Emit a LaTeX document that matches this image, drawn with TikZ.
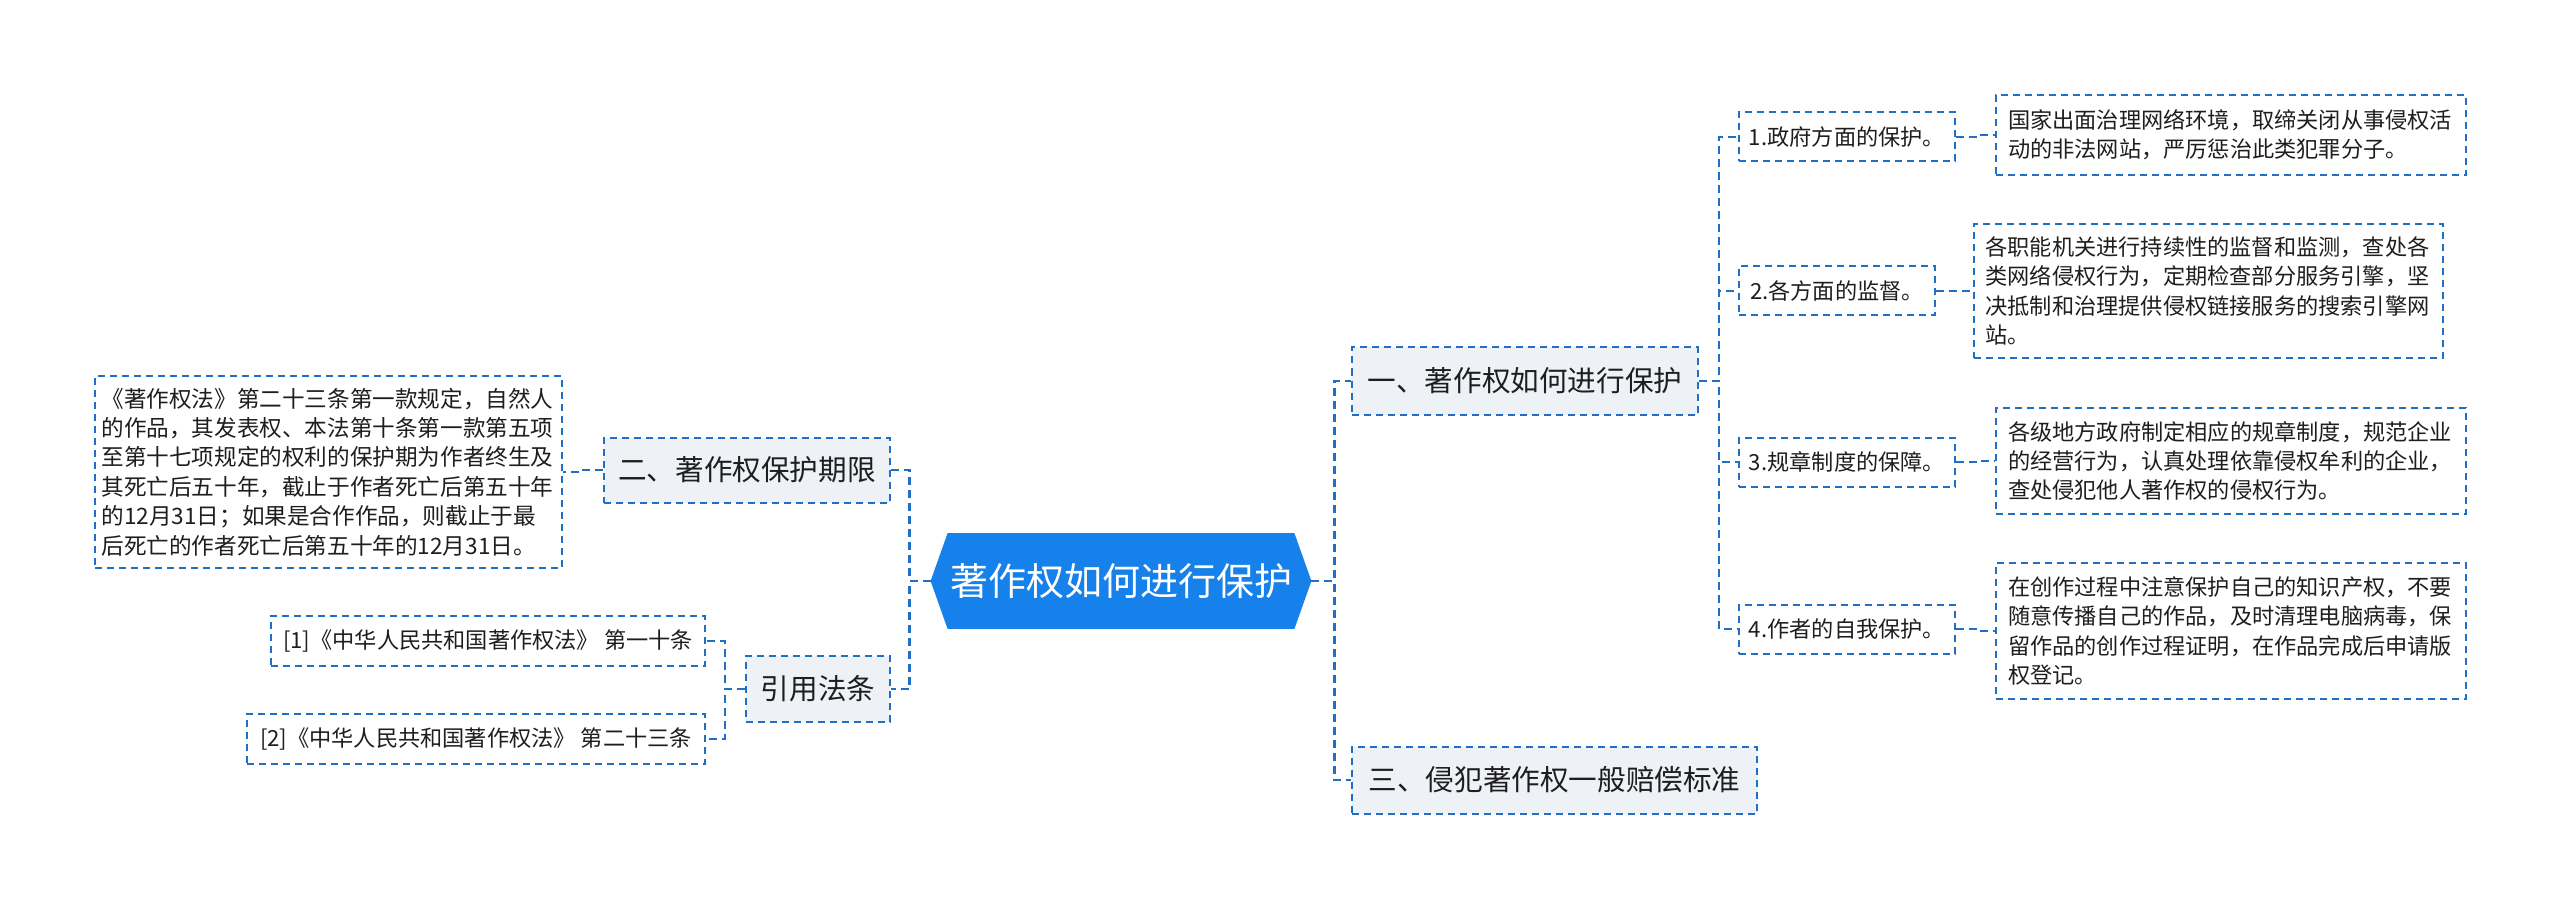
\documentclass[tikz,border=0pt]{standalone}
\usepackage{fontspec}
\setmainfont{Noto Sans CJK SC}
\usetikzlibrary{backgrounds}
\definecolor{lc}{HTML}{1F6FC6}
\definecolor{mainfill}{HTML}{1681EA}
\definecolor{lonefill}{HTML}{EEF1F5}
\definecolor{txt}{HTML}{1E1E1E}
\begin{document}
\begin{tikzpicture}[x=0.5pt,y=-0.5pt,
  box/.style={draw=lc, line width=1pt, dash pattern=on 3.5pt off 2.5pt, text=txt, inner sep=0pt},
  lone/.style={box, fill=lonefill, font=\fontsize{14.3pt}{17pt}\selectfont},
  ltwo/.style={box, fill=white, font=\fontsize{11.1pt}{14.7pt}\selectfont},
  detail/.style={ltwo, align=left},
  conn/.style={draw=lc, line width=1.4pt, dash pattern=on 4pt off 2.5pt},
]
\useasboundingbox (0,0) rectangle (2560,909);

% central
\node[font=\fontsize{19pt}{22pt}\selectfont, text=white, minimum width=190pt, minimum height=47.5pt, inner sep=0pt] (c) at (1121,581) {著作权如何进行保护};
\begin{scope}[on background layer]
\fill[white] (0,0) rectangle (2560,909);
\fill[mainfill] (c.west) -- ([xshift=8.5pt]c.north west) -- ([xshift=-8.5pt]c.north east) -- (c.east) -- ([xshift=-8.5pt]c.south east) -- ([xshift=8.5pt]c.south west) -- cycle;
\end{scope}

% level one
\node[lone, minimum width=173pt, minimum height=33.5pt] (a) at (1525,381) {一、著作权如何进行保护};
\node[lone, minimum width=202.5pt, minimum height=33.5pt] (b) at (1554.5,780) {三、侵犯著作权一般赔偿标准};
\node[lone, minimum width=143pt, minimum height=32.5pt] (e) at (747,470) {二、著作权保护期限};
\node[lone, minimum width=72pt, minimum height=33pt] (f) at (818,689) {引用法条};

% level two right
\node[ltwo, minimum width=108pt, minimum height=24.5pt] (s1) at (1847,137) {1.政府方面的保护。};
\node[ltwo, minimum width=98pt, minimum height=24.5pt] (s2) at (1837,291) {2.各方面的监督。};
\node[ltwo, minimum width=108pt, minimum height=24.5pt] (s3) at (1847,462) {3.规章制度的保障。};
\node[ltwo, minimum width=108pt, minimum height=24.5pt] (s4) at (1847,629) {4.作者的自我保护。};

% details right
\node[detail, text width=223pt, minimum width=235pt, minimum height=40pt] (d1) at (2231,135) {国家出面治理网络环境，取缔关闭从事侵权活\\动的非法网站，严厉惩治此类犯罪分子。};
\node[detail, text width=223pt, minimum width=234.5pt, minimum height=67pt] (d2) at (2208.5,291) {各职能机关进行持续性的监督和监测，查处各\\类网络侵权行为，定期检查部分服务引擎，坚\\决抵制和治理提供侵权链接服务的搜索引擎网\\站。};
\node[detail, text width=223pt, minimum width=235pt, minimum height=53pt] (d3) at (2231,461) {各级地方政府制定相应的规章制度，规范企业\\的经营行为，认真处理依靠侵权牟利的企业，\\查处侵犯他人著作权的侵权行为。};
\node[detail, text width=223pt, minimum width=235pt, minimum height=68pt] (d4) at (2231,631) {在创作过程中注意保护自己的知识产权，不要\\随意传播自己的作品，及时清理电脑病毒，保\\留作品的创作过程证明，在作品完成后申请版\\权登记。};

% left details
\node[detail, font=\fontsize{11.3pt}{14.7pt}\selectfont, text width=227pt, minimum width=233.5pt, minimum height=96pt] (dl) at (328.5,472) {《著作权法》第二十三条第一款规定，自然人\\的作品，其发表权、本法第十条第一款第五项\\至第十七项规定的权利的保护期为作者终生及\\其死亡后五十年，截止于作者死亡后第五十年\\的12月31日；如果是合作作品，则截止于最\\后死亡的作者死亡后第五十年的12月31日。};
\node[ltwo, minimum width=217pt, minimum height=25pt] (c1) at (488,641) {[1]《中华人民共和国著作权法》 第一十条};
\node[ltwo, minimum width=229pt, minimum height=25pt] (c2) at (476,739) {[2]《中华人民共和国著作权法》 第二十三条};

% connectors
\draw[conn] (c.east) -- ++(23,0) |- (a.west);
\draw[conn] (c.east) -- ++(23,0) |- (b.west);
\draw[conn] (c.west) -- ++(-21,0) |- (e.east);
\draw[conn] (c.west) -- ++(-21,0) |- (f.east);
\draw[conn] (a.east) -- ++(20,0) |- (s1.west);
\draw[conn] (a.east) -- ++(20,0) |- (s2.west);
\draw[conn] (a.east) -- ++(20,0) |- (s3.west);
\draw[conn] (a.east) -- ++(20,0) |- (s4.west);
\draw[conn] (s1.east) -- ++(20,0) |- (d1.west);
\draw[conn] (s2.east) -- ++(20,0) |- (d2.west);
\draw[conn] (s3.east) -- ++(20,0) |- (d3.west);
\draw[conn] (s4.east) -- ++(20,0) |- (d4.west);
\draw[conn] (e.west) -- ++(-21,0) |- (dl.east);
\draw[conn] (f.west) -- ++(-20,0) |- (c1.east);
\draw[conn] (f.west) -- ++(-20,0) |- (c2.east);
\end{tikzpicture}
\end{document}
